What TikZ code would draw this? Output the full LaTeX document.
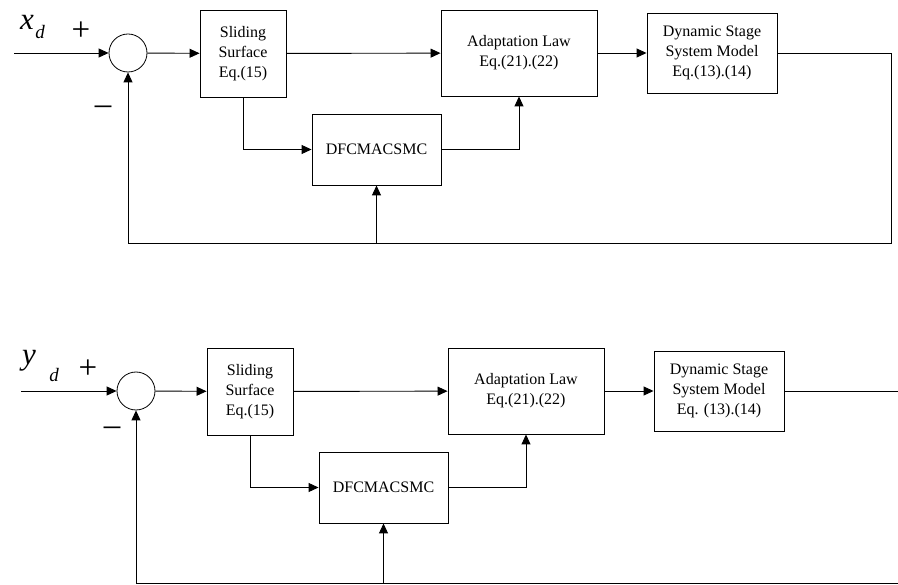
\documentclass[tikz,border=0pt]{standalone}
\usepackage{fontspec}
\setmainfont{Liberation Serif}
\usetikzlibrary{arrows.meta}

\tikzset{
  blk/.style={draw, line width=0.9pt, align=center, inner sep=0pt,
    font=\fontsize{16}{20}\selectfont},
  sumnode/.style={draw, circle, line width=0.8pt, minimum size=38pt, inner sep=0pt},
  sig/.style={-{Triangle[length=10pt,width=9pt]}, line width=0.9pt},
  wire/.style={line width=0.9pt},
  sgn/.style={font=\fontsize{33}{33}\selectfont, inner sep=0pt},
}

\begin{document}
\begin{tikzpicture}[x=1pt,y=-1pt]
		\useasboundingbox (0,0) rectangle (898,585);
		% upper loop (x axis)
		\coordinate (in1) at (14,53);
		\node[sumnode] (sum1) at (128,53) {};
		\node[blk, minimum width=86pt, minimum height=87pt] (slide1) at (243,53.5) {Sliding\\Surface\\Eq.(15)};
		\node[blk, minimum width=156pt, minimum height=86pt] (adapt1) at (519,53) {Adaptation Law\\Eq.(21).(22)};
		\node[blk, minimum width=130pt, minimum height=80pt] (plant1) at (712,53) {Dynamic Stage\\System Model\\Eq.(13).(14)};
		\node[blk, minimum width=129pt, minimum height=71pt] (dfc1) at (376.5,149.5) {DFCMACSMC};
		\coordinate (fb1) at (891,243);
		\node[inner sep=0pt] (xd) at (27,22) {\fontsize{31}{31}\selectfont\itshape x};
		\node[inner sep=0pt, font=\fontsize{19}{19}\selectfont\itshape] (xdsub) at (40,32) {d};
		\node[sgn] (plus1) at (81,31) {+};
		\node[sgn] (minus1) at (103,110) {\textendash};
		\draw[sig] (in1) -- (sum1);
		\draw[sig] (sum1) -- (slide1);
		\draw[sig] (slide1) -- (adapt1);
		\draw[sig] (adapt1) -- (plant1);
		\draw[sig] (plant1.east) -| (fb1) -| (sum1.south);
		\draw[sig] (slide1.south) |- (dfc1.west);
		\draw[sig] (dfc1.east) -| (adapt1.south);
		\draw[sig] (dfc1.south |- fb1) -- (dfc1.south);
		% lower loop (y axis)
		\coordinate (in2) at (21,391);
		\node[sumnode] (sum2) at (136,391) {};
		\node[blk, minimum width=86pt, minimum height=87pt] (slide2) at (250,391.5) {Sliding\\Surface\\Eq.(15)};
		\node[blk, minimum width=156pt, minimum height=86pt] (adapt2) at (526,391) {Adaptation Law\\Eq.(21).(22)};
		\node[blk, minimum width=130pt, minimum height=80pt] (plant2) at (719,391) {Dynamic Stage\\System Model\\Eq. (13).(14)};
		\node[blk, minimum width=129pt, minimum height=71pt] (dfc2) at (383.5,487.5) {DFCMACSMC};
		\coordinate (out2) at (898,391);
		\coordinate (fb2) at (898,583.5);
		\node[inner sep=0pt] (yd) at (29,361) {\fontsize{31}{31}\selectfont\itshape y};
		\node[inner sep=0pt, font=\fontsize{19}{19}\selectfont\itshape] (ydsub) at (54,375) {d};
		\node[sgn] (plus2) at (88,369) {+};
		\node[sgn] (minus2) at (112,431) {\textendash};
		\draw[sig] (in2) -- (sum2);
		\draw[sig] (sum2) -- (slide2);
		\draw[sig] (slide2) -- (adapt2);
		\draw[sig] (adapt2) -- (plant2);
		\draw[wire] (plant2) -- (out2);
		\draw[sig] (fb2) -| (sum2.south);
		\draw[sig] (slide2.south) |- (dfc2.west);
		\draw[sig] (dfc2.east) -| (adapt2.south);
		\draw[sig] (dfc2.south |- fb2) -- (dfc2.south);
\end{tikzpicture}
\end{document}
